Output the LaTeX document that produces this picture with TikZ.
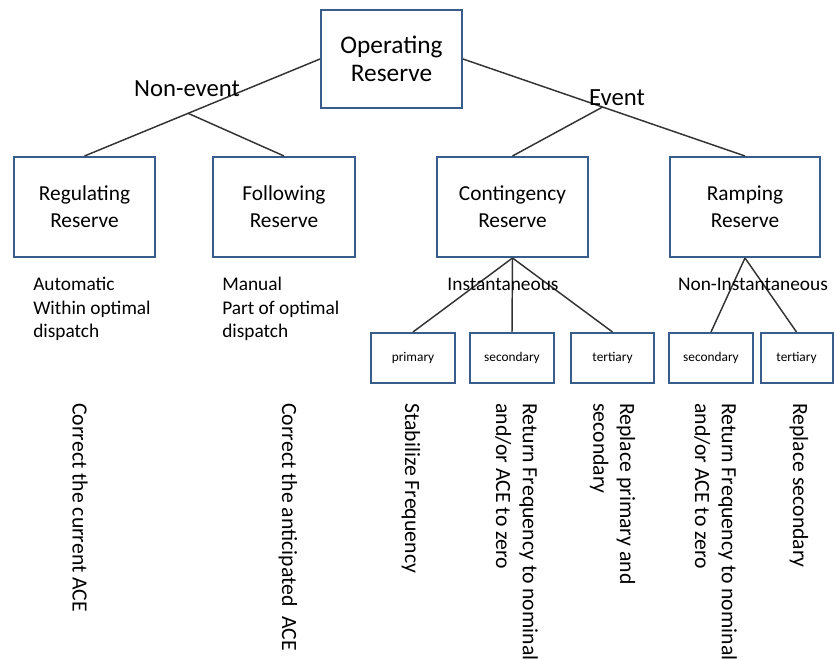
\documentclass[tikz,border=0pt]{standalone}
\usepackage{fontspec}
\setmainfont{Carlito}
\definecolor{boxblue}{RGB}{56,93,138}

\begin{document}
\begin{tikzpicture}[x=0.75pt,y=-0.75pt,
  box/.style={draw=boxblue,line width=1.5pt,align=center,inner sep=2pt},
  topbox/.style={box,minimum width=105.75pt,minimum height=73.5pt,font=\fontsize{19}{21}\selectfont},
  midbox/.style={box,minimum height=75pt,font=\fontsize{16}{20}\selectfont},
  leafbox/.style={box,minimum width=63pt,minimum height=37.5pt,font=\fontsize{10}{12}\selectfont},
  branch/.style={anchor=base,inner sep=0pt,font=\fontsize{18.5}{22}\selectfont},
  subbranch/.style={anchor=base,inner sep=0pt,font=\fontsize{14.5}{17}\selectfont},
  note/.style={anchor=north west,align=left,inner sep=0pt,font=\fontsize{14.5}{17.6}\selectfont},
  task/.style={rotate=-90,anchor=west,align=left,inner sep=0pt,font=\fontsize{16.3}{20}\selectfont},
  link/.style={draw=black!80,line width=1.1pt}]
  \useasboundingbox (0,0) rectangle (835,660);

  % reserve types
  \node[topbox] (op) at (391.5,59) {Operating\\Reserve};
  \node[midbox,minimum width=105.75pt] (reg) at (84.5,207) {Regulating\\Reserve};
  \node[midbox,minimum width=106.5pt] (fol) at (284,207) {Following\\Reserve};
  \node[midbox,minimum width=113.25pt] (con) at (512.5,207) {Contingency\\Reserve};
  \node[midbox,minimum width=112.5pt] (ram) at (745,207) {Ramping\\Reserve};

  % control levels
  \node[leafbox] (pri) at (413,358) {primary};
  \node[leafbox] (sec) at (512,358) {secondary};
  \node[leafbox,minimum width=62.25pt] (ter) at (612.5,358) {tertiary};
  \node[leafbox] (secb) at (711,358) {secondary};
  \node[leafbox,minimum width=54pt] (terb) at (796.5,358) {tertiary};

  \draw[link] (op.west) -- coordinate[pos=0.56] (nonev) (reg.north);
  \draw[link] (nonev) -- (fol.north);
  \draw[link] (op.east) -- coordinate[pos=0.495] (ev) (ram.north);
  \draw[link] (ev) -- (con.north);
  \foreach \s in {pri,sec,ter}
    \draw[link] (con.south) -- (\s.north);
  \foreach \s in {secb,terb}
    \draw[link] (ram.south) -- (\s.north);

  \node[branch] (lnonev) at (187,97) {Non-event};
  \node[branch] (lev) at (617,105) {Event};
  \node[subbranch] (linst) at (503,290) {Instantaneous};
  \node[subbranch] (lnoninst) at (753,290) {Non-Instantaneous};

  \node[note] (regnote) at (33,277) {Automatic\\Within optimal\\dispatch};
  \node[note] (folnote) at (222,277) {Manual\\Part of optimal\\dispatch};

  % what each one does
  \node[task] (regtask) at (80,403) {Correct the current ACE};
  \node[task] (foltask) at (288,403) {Correct the anticipated~ ACE};
  \node[task] (pritask) at (411,403) {Stabilize Frequency};
  \node[task] (sectask) at (516.5,403) {Return Frequency to nominal\\and/or ACE to zero};
  \node[task] (tertask) at (612.5,403) {Replace primary and\\secondary};
  \node[task] (sectaskb) at (715.5,403) {Return Frequency to nominal\\and/or ACE to zero};
  \node[task] (tertaskb) at (799,403) {Replace secondary};
\end{tikzpicture}
\end{document}
